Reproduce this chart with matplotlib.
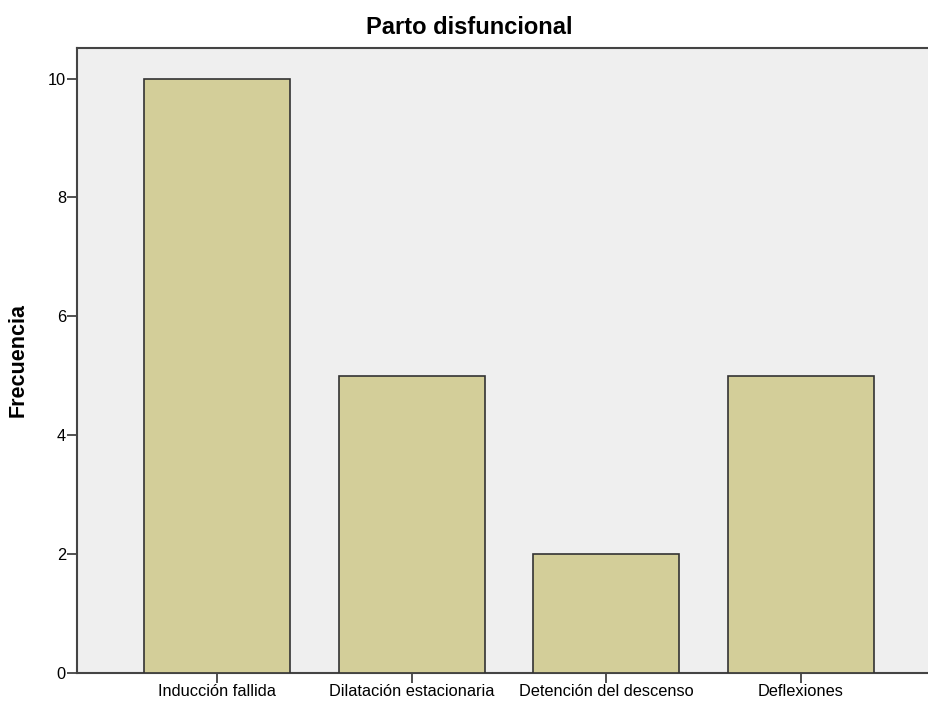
import matplotlib.pyplot as plt

categories = ['Inducción fallida', 'Dilatación estacionaria',
              'Detención del descenso', 'Deflexiones']
counts = [10, 5, 2, 5]
yticks = [0, 2, 4, 6, 8, 10]

plt.rcParams['font.family'] = ['Liberation Sans', 'DejaVu Sans']

fig = plt.figure(figsize=(9.29, 7.04), dpi=100)
ax = fig.add_axes([77 / 929, 31.3 / 704, 852 / 929, 625 / 704])
ax.set_facecolor('#efefef')

x = range(len(categories))
ax.bar(x, counts, width=0.75, color='#d3ce99', edgecolor='#333333', linewidth=1.2, zorder=3)

ax.set_xlim(-0.721, 3.659)
ax.set_ylim(0, 10.52)
ax.set_xticks(list(x))
ax.set_xticklabels(categories, fontsize=11.8)
ax.set_yticks(yticks)
ax.set_yticklabels([str(v) for v in yticks], fontsize=11.8)
ax.tick_params(axis='both', length=7, width=1.2, color='#333333', pad=1)

for side in ['left', 'bottom', 'top']:
    ax.spines[side].set_color('#444444')
    ax.spines[side].set_linewidth(1.5)
ax.spines['right'].set_visible(False)

ax.set_ylabel('Frecuencia', fontsize=15.5, fontweight='bold', labelpad=14)
fig.text(469 / 929, 1 - 28 / 704, 'Parto disfuncional', fontsize=17,
         fontweight='bold', ha='center', va='center')

fig.savefig('out.png', dpi=100, facecolor='white')
